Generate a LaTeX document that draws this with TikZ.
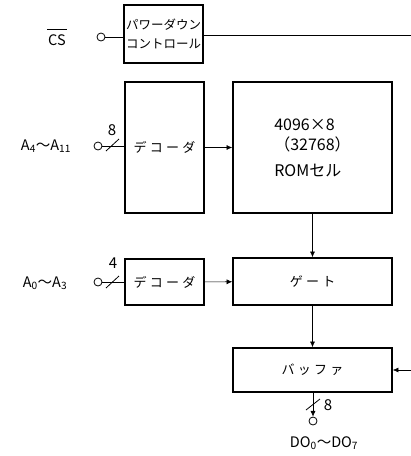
\documentclass[tikz,border=0pt]{standalone}
\usepackage{fontspec}
\setmainfont{Noto Sans CJK JP}
\newfontfamily\jpwide[LetterSpace=25]{Noto Sans CJK JP}
\usetikzlibrary{positioning,arrows.meta}
\tikzset{
  flowarrow/.style={-{Latex[length=2mm,width=1.8mm]}, semithick},
  blockbox/.style={draw, line width=1.6pt, minimum width=159pt, minimum height=46pt, inner sep=2pt, align=center, font=\jpwide\fontsize{13}{15}\selectfont},
  decbox/.style={blockbox, minimum width=79pt},
  pin/.style={circle, draw, thick, inner sep=0pt, minimum size=8pt},
  buslabel/.style={font=\fontsize{15}{17}\selectfont, inner sep=1pt},
  siglabel/.style={font=\fontsize{14.5}{17}\selectfont, inner sep=0pt}
}

\begin{document}
\begin{tikzpicture}[x=1pt, y=-1pt, >=Latex]
  \useasboundingbox (0,0) rectangle (411,456);
  % blocks
  \node[decbox, minimum height=58pt, align=left, font=\fontsize{12.5}{19}\selectfont] (pdc) at (163.5,34) {パワーダウン\\コントロール};
  \node[decbox, minimum height=131pt] (dec8) at (164.5,147.5) {デコーダ};
  \node[blockbox, minimum height=131pt, align=left, font=\fontsize{16}{20}\selectfont] (rom) at (312.5,147.5) {4096×8\\（32768）\\[6pt]ROMセル};
  \node[decbox] (dec4) at (164.5,282) {デコーダ};
  \node[blockbox, minimum height=47pt] (gate) at (312.5,281.5) {ゲート};
  \node[blockbox, minimum height=44pt] (buf) at (312.5,370) {バッファ};
  % pins and labels
  \node[pin] (cspin) at (101,37) {};
  \node[pin] (in8) at (98,146) {};
  \node[pin] (in4) at (98,282) {};
  \node[pin] (dopin) at (313,421) {};
  \node[siglabel, inner sep=1pt] (cslbl) at (57,40) {CS};
  \draw[semithick] ([yshift=4pt]cslbl.north west) -- ([yshift=4pt]cslbl.north east);
  \node[siglabel] (a8lbl) at (46,146) {A\textsubscript{4}～A\textsubscript{11}};
  \node[siglabel] (a4lbl) at (45,283) {A\textsubscript{0}～A\textsubscript{3}};
  \node[siglabel] (dolbl) at (324,443) {DO\textsubscript{0}～DO\textsubscript{7}};
  \coordinate (pdout) at (411,35);
  \coordinate (bufin) at (411,370);
  % connectors
  \draw[semithick] (cspin) -- (cspin -| pdc.west);
  \draw[semithick] (pdc.east |- pdout) -- (pdout);
  \draw[semithick] (in8) -- (in8 -| dec8.west);
  \draw[semithick] (in4) -- (in4 -| dec4.west);
  \draw[flowarrow] (dec8) -- (rom);
  \draw[flowarrow] (rom) -- (gate);
  \draw[flowarrow] (dec4) -- (gate);
  \draw[flowarrow] (gate) -- (buf);
  \draw[flowarrow] (bufin) -- (buf.east);
  \draw[flowarrow] (buf.south -| dopin) -- (dopin);
  % bus widths
  \draw[thick] (106,151) -- (119,139);
  \node[buslabel] (w8) at (112,130) {8};
  \draw[thick] (106,288) -- (119,276);
  \node[buslabel] (w4) at (113,263) {4};
  \draw[thick] (306,410) -- (320,399);
  \node[buslabel] (wo8) at (328,405) {8};
\end{tikzpicture}
\end{document}
